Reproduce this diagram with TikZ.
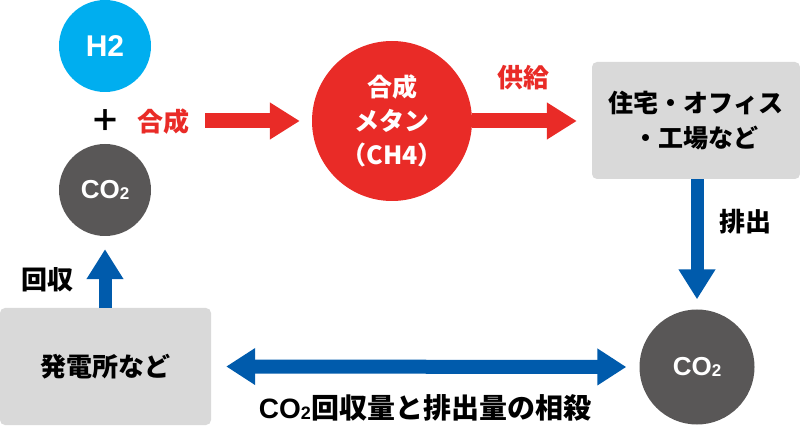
\documentclass[tikz,border=0pt]{standalone}
\usepackage{fontspec}
\setmainfont{Noto Sans CJK JP}
\newfontfamily\lat{Liberation Sans}
\usetikzlibrary{arrows.meta}
\definecolor{skyb}{HTML}{00AEEF}
\definecolor{darkg}{HTML}{595757}
\definecolor{redc}{HTML}{E92B27}
\definecolor{blueA}{HTML}{005BAC}
\definecolor{boxg}{HTML}{D9D9D9}
\newcommand{\cotwo}{{\lat CO\raisebox{-1pt}{\fontsize{17}{17}\selectfont 2}}}
\begin{document}
\begin{tikzpicture}[x=1pt,y=-1pt,
  circ/.style={circle,inner sep=0pt,text=white,align=center},
  gbox/.style={rectangle,rounded corners=5pt,fill=boxg,inner sep=0pt,align=center,font=\bfseries\fontsize{25}{35}\selectfont},
  lbl/.style={font=\bfseries\fontsize{26}{28}\selectfont,inner sep=0pt},
  redarrow/.style={draw=redc,line width=15pt,-{Triangle[length=30pt,width=35pt]}},
  bluearrow/.style={draw=blueA,line width=13pt,-{Triangle[length=30pt,width=35pt]}},
  bluedouble/.style={draw=blueA,line width=14pt,{Triangle[length=29pt,width=35pt]}-{Triangle[length=29pt,width=35pt]}}
]
\useasboundingbox (0,0) rectangle (800,427);
% circles
\node[circ,fill=skyb,minimum size=92pt,font=\lat\bfseries\fontsize{30}{30}\selectfont] (h2) at (105,46) {H2};
\node[circ,fill=darkg,minimum size=92pt,font=\bfseries\fontsize{26}{26}\selectfont] (co2l) at (105,190) {\cotwo};
\node[circ,fill=redc,minimum size=160pt,font=\bfseries\fontsize{25}{34}\selectfont] (meth) at (392,121) {合成\\メタン\\（CH4）};
\node[circ,fill=darkg,minimum size=115pt,font=\bfseries\fontsize{26}{26}\selectfont] (co2r) at (697,367) {\cotwo};
% boxes
\node[gbox,minimum width=208pt,minimum height=117pt] (home) at (696,120.5) {住宅・オフィス\\・工場など};
\node[gbox,minimum width=211pt,minimum height=117pt,font=\bfseries\fontsize{26}{30}\selectfont] (plant) at (105.5,366.5) {発電所など};
% labels
\node[font=\bfseries\fontsize{30}{30}\selectfont,inner sep=0pt] (plus) at (105,121) {＋};
\node[lbl,text=redc] (gosei) at (163,122) {合成};
\node[lbl,text=redc] (kyokyu) at (523,78) {供給};
\node[lbl] (haishutsu) at (745,222) {排出};
\node[lbl] (kaishu) at (47,280) {回収};
\node[lbl,font=\bfseries\fontsize{28}{30}\selectfont] (sousai) at (425,408) {{\lat CO\raisebox{-1pt}{\fontsize{18}{18}\selectfont 2}}回収量と排出量の相殺};
% arrows
\draw[redarrow] ([xshift=16pt]gosei.east |- meth.west) -- ([xshift=-12pt]meth.west);
\draw[redarrow] (meth.east) -- ([xshift=-15pt]home.west |- meth.east);
\draw[bluearrow] (home.south -| co2r.north) -- ([yshift=10pt]co2r.north);
\draw[bluearrow] (plant.north -| co2l.south) -- ([yshift=-13pt]co2l.south);
\draw[bluedouble] ([xshift=15pt]plant.east) -- ([xshift=-13pt]co2r.west);
\end{tikzpicture}
\end{document}
